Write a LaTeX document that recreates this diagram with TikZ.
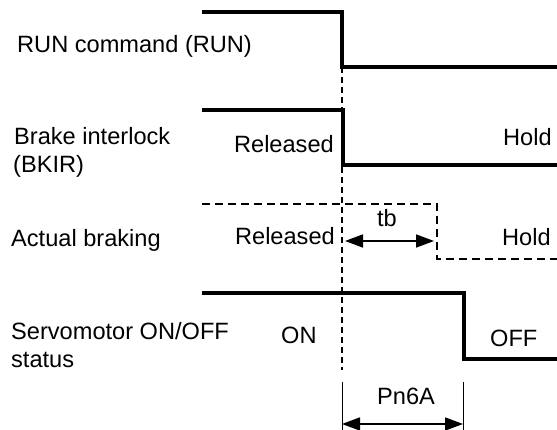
\documentclass[tikz,border=0pt]{standalone}
\usepackage{fontspec}
\setmainfont{Liberation Sans}
\usetikzlibrary{arrows.meta}
\begin{document}
\begin{tikzpicture}[x=1pt,y=-1pt,
  sig/.style={line width=3.4pt, line join=miter},
  dsig/.style={line width=1.5pt, dash pattern=on 8pt off 5pt},
  guide/.style={line width=1.2pt, dash pattern=on 6pt off 4pt},
  ext/.style={line width=1pt},
  dim/.style={line width=1.6pt, {Triangle[length=18pt,width=13pt]}-{Triangle[length=18pt,width=13pt]}},
  lbl/.style={inner sep=0pt, font=\fontsize{23.6}{28}\selectfont}]
\useasboundingbox (0,0) rectangle (557,430);
% left labels
\node[lbl, anchor=base west] (runlbl) at (17,53) {RUN command (RUN)};
\node[lbl, anchor=base west] (bk1) at (14,145) {Brake interlock};
\node[lbl, anchor=base west] (bk2) at (13,173) {(BKIR)};
\node[lbl, anchor=base west] (ablbl) at (11,247) {Actual braking};
\node[lbl, anchor=base west] (sv1) at (11,340) {Servomotor ON/OFF};
\node[lbl, anchor=base west] (sv2) at (11,367) {status};
% state labels
\node[lbl, anchor=base east] (rel1) at (334,153) {Released};
\node[lbl, anchor=base west] (hold1) at (503,146) {Hold};
\node[lbl, anchor=base east] (rel2) at (335,245) {Released};
\node[lbl, anchor=base west] (hold2) at (502,246) {Hold};
\node[lbl, anchor=base west] (on) at (281,344) {ON};
\node[lbl, anchor=base west] (off) at (490,346) {OFF};
\node[lbl, anchor=base] (tb) at (387,227) {tb};
\node[lbl, anchor=base] (pn) at (406,404) {Pn6A};
% waveforms
\coordinate (r0) at (202,12); \coordinate (r1) at (342,12);
\coordinate (r2) at (342,67); \coordinate (r3) at (557,67);
\draw[sig] (r0) -- (r1) -- (r2) -- (r3);
\coordinate (b0) at (202,110); \coordinate (b1) at (343,110);
\coordinate (b2) at (343,165); \coordinate (b3) at (557,165);
\draw[sig] (b0) -- (b1) -- (b2) -- (b3);
\coordinate (a0) at (202,204); \coordinate (a1) at (437,204);
\coordinate (a2) at (437,259); \coordinate (a3) at (557,259);
\draw[dsig] (a0) -- (a1) -- (a2) -- (a3);
\coordinate (s0) at (202,293); \coordinate (s1) at (464,293);
\coordinate (s2) at (464,359); \coordinate (s3) at (557,359);
\draw[sig] (s0) -- (s1) -- (s2) -- (s3);
% guide line
\coordinate (g0) at (342,67); \coordinate (g1) at (342,370);
\draw[guide] (g0) -- (g1);
% tb dimension
\coordinate (t0) at (345,241); \coordinate (t1) at (434,241);
\draw[dim] (t0) -- (t1);
% Pn6A dimension
\coordinate (e0) at (342,382); \coordinate (e1) at (342,430);
\coordinate (f0) at (463,382); \coordinate (f1) at (463,430);
\draw[ext] (e0) -- (e1);
\draw[ext] (f0) -- (f1);
\coordinate (p0) at (342,424); \coordinate (p1) at (463,424);
\draw[dim] (p0) -- (p1);
\end{tikzpicture}
\end{document}
